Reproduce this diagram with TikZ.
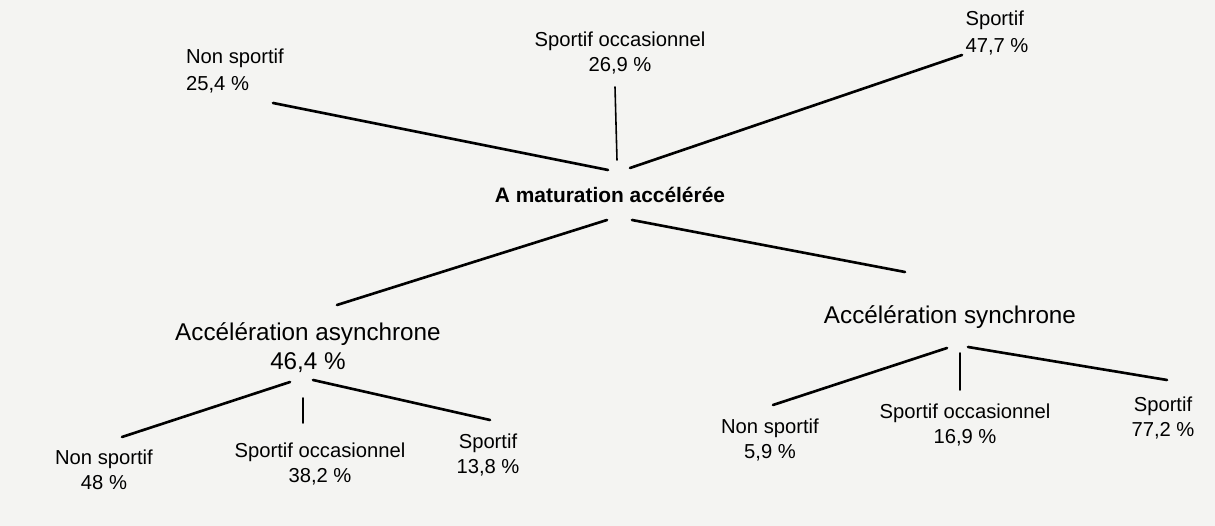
\documentclass[tikz,border=0pt]{standalone}
\usepackage{fontspec}
\setmainfont{Liberation Sans}
\usetikzlibrary{positioning}
\definecolor{paper}{RGB}{244,244,242}

\begin{document}
\begin{tikzpicture}[
    x=0.02cm, y=-0.02cm,
    leaf/.style={align=center, inner sep=0pt, font=\fontsize{11.5}{14.5}\selectfont},
    leafleft/.style={align=left, inner sep=0pt, font=\fontsize{11.5}{15.5}\selectfont},
    group/.style={align=center, inner sep=0pt, font=\fontsize{13.8}{16.5}\selectfont},
    rootbox/.style={inner sep=0pt, font=\bfseries\fontsize{11.9}{14}\selectfont},
    branch/.style={line width=1.5pt, line cap=round},
    stem/.style={line width=0.9pt, line cap=round}
]
\fill[paper] (0,0) rectangle (1215,526);
\useasboundingbox (0,0) rectangle (1215,526);

% root
\node (root) [rootbox] at (610,195) {A maturation accélérée};

% top row
\node (ns1) [leafleft] at (235,71) {Non sportif\\25,4 \%};
\node (so1) [leaf] at (620,53) {Sportif occasionnel\\26,9 \%};
\node (sp1) [leafleft] at (997,33) {Sportif\\47,7 \%};

% second level
\node (async) [group] at (308,348) {Accélération asynchrone\\46,4 \%};
\node (sync) [group] at (950,317) {Accélération synchrone};

% bottom row
\node (ns2) [leaf] at (104,470) {Non sportif\\48 \%};
\node (so2) [leaf] at (320,464) {Sportif occasionnel\\38,2 \%};
\node (sp2) [leaf] at (488,455) {Sportif\\13,8 \%};
\node (ns3) [leaf] at (770,440) {Non sportif\\5,9 \%};
\node (so3) [leaf] at (965,425) {Sportif occasionnel\\16,9 \%};
\node (sp3) [leaf] at (1163,418) {Sportif\\77,2 \%};

% links to the top
\draw [branch] ([shift={(-2,-25)}]root.center) -- ([shift={(38,32)}]ns1.center);
\draw [stem] ([shift={(7,-35)}]root.center) -- ([shift={(-5,34)}]so1.center);
\draw [branch] ([shift={(20,-27)}]root.center) -- ([shift={(-35,22)}]sp1.center);

% links down
\draw [branch] ([shift={(-3,25)}]root.center) -- ([shift={(29,-43)}]async.center);
\draw [branch] ([shift={(22,25)}]root.center) -- ([shift={(-45,-45)}]sync.center);

\draw [branch] ([shift={(-18,34)}]async.center) -- ([shift={(18,-33)}]ns2.center);
\draw [stem] ([shift={(-5,50)}]async.center) -- ([shift={(-17,-41)}]so2.center);
\draw [branch] ([shift={(5,32)}]async.center) -- ([shift={(2,-35)}]sp2.center);

\draw [branch] ([shift={(-3,31)}]sync.center) -- ([shift={(3,-35)}]ns3.center);
\draw [stem] ([shift={(10,36)}]sync.center) -- ([shift={(-5,-35)}]so3.center);
\draw [branch] ([shift={(18,30)}]sync.center) -- ([shift={(4,-38)}]sp3.center);
\end{tikzpicture}
\end{document}
